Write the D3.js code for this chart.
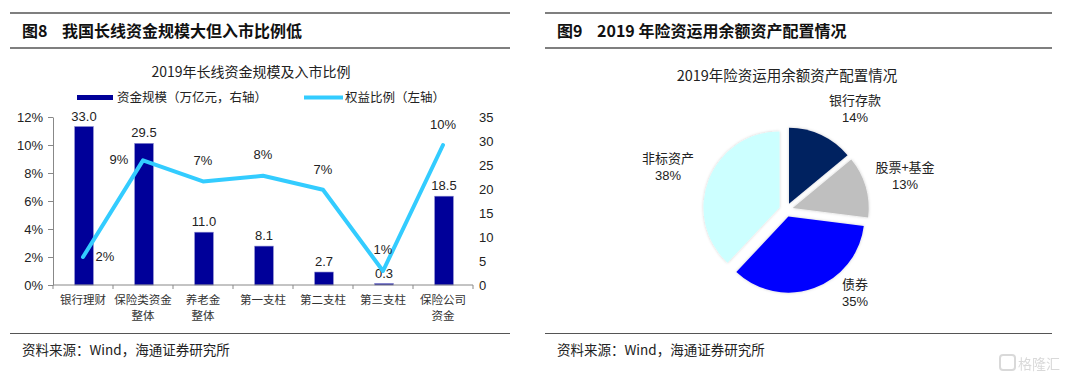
<!DOCTYPE html>
<html><head><meta charset="utf-8">
<script src="https://cdn.jsdelivr.net/npm/d3@7"></script>
<style>
body{margin:0;background:#fff;}
svg{display:block;font-family:"Liberation Sans",Arial,"Noto Sans CJK SC",sans-serif;}
.cjk{font-family:"Noto Sans CJK SC",sans-serif;}
</style></head>
<body>
<svg id="c" width="1073" height="383"></svg>
<script>
// ---- data ----
const categories = [["银行理财"],["保险类资金","整体"],["养老金","整体"],["第一支柱"],["第二支柱"],["第三支柱"],["保险公司","资金"]];
const fundScale = [33.0, 29.5, 11.0, 8.1, 2.7, 0.3, 18.5];          // 万亿元, right axis
const equityRatio = [0.020, 0.089, 0.074, 0.078, 0.068, 0.010, 0.100]; // left axis
const equityLabels = ["2%","9%","7%","8%","7%","1%","10%"];
const leftTicks = [0,0.02,0.04,0.06,0.08,0.10,0.12];
const rightTicks = [0,5,10,15,20,25,30,35];
const pieNames = ["银行存款","股票+基金","债券","非标资产"];
const pieValues = [14, 13, 35, 38];
const pieColors = ["#002060","#BFBFBF","#0000FF","#CCFFFF"];

const svg = d3.select("#c");
const defs = svg.append("defs");
const f = defs.append("filter").attr("id","sh").attr("x","-20%").attr("y","-20%").attr("width","140%").attr("height","140%");
f.append("feGaussianBlur").attr("in","SourceAlpha").attr("stdDeviation",1.5).attr("result","b");
f.append("feFlood").attr("flood-color","#000").attr("flood-opacity",0.2);
f.append("feComposite").attr("in2","b").attr("operator","in").attr("result","s");
const fm = f.append("feMerge"); fm.append("feMergeNode").attr("in","s"); fm.append("feMergeNode").attr("in","SourceGraphic");

// ---- frame: rules, titles, sources ----
function panel(x1,x2,fig,title,src){
  svg.append("line").attr("x1",x1).attr("x2",x2).attr("y1",13).attr("y2",13).attr("stroke","#555").attr("stroke-width",1.5);
  svg.append("line").attr("x1",x1).attr("x2",x2).attr("y1",48).attr("y2",48).attr("stroke","#555").attr("stroke-width",1.5);
  svg.append("line").attr("x1",x1).attr("x2",x2).attr("y1",333.5).attr("y2",333.5).attr("stroke","#555").attr("stroke-width",1.2);
  svg.append("text").attr("class","cjk").attr("x",x1+12).attr("y",37).attr("font-size",16).attr("font-weight","bold").attr("fill","#111").text(fig);
  svg.append("text").attr("class","cjk").attr("x",x1+52).attr("y",37).attr("font-size",16).attr("font-weight","bold").attr("fill","#111").text(title);
  svg.append("text").attr("class","cjk").attr("x",x1+12).attr("y",355).attr("font-size",13.5).attr("fill","#222").text(src);
}
panel(10,510,"图8","我国长线资金规模大但入市比例低","资料来源：Wind，海通证券研究所");
panel(545,1052,"图9","2019 年险资运用余额资产配置情况","资料来源：Wind，海通证券研究所");

// ---- left chart ----
const x0 = 53, x1 = 473, yTop = 117, yBot = 285;
const xb = d3.scaleBand().domain(d3.range(categories.length)).range([x0,x1]).paddingInner(0.69).paddingOuter(0.345);
const xBand = d3.scaleBand().domain(d3.range(categories.length)).range([x0,x1]);
const yL = d3.scaleLinear().domain([0,0.12]).range([yBot,yTop]);
const yR = d3.scaleLinear().domain([0,35]).range([yBot,yTop]);

svg.append("text").attr("class","cjk").attr("x",251).attr("y",77).attr("text-anchor","middle").attr("font-size",14).attr("fill","#222").text("2019年长线资金规模及入市比例");

// legend
svg.append("rect").attr("x",77).attr("y",95).attr("width",36).attr("height",5).attr("fill","#000099");
svg.append("text").attr("class","cjk").attr("x",117).attr("y",102).attr("font-size",12.5).attr("fill","#222").text("资金规模（万亿元，右轴）");
svg.append("line").attr("x1",304).attr("x2",343).attr("y1",97.5).attr("y2",97.5).attr("stroke","#33CCFF").attr("stroke-width",4);
svg.append("text").attr("class","cjk").attr("x",345).attr("y",102).attr("font-size",12.5).attr("fill","#222").text("权益比例（左轴）");

// left axis
const gL = svg.append("g").attr("transform",`translate(${x0},0)`)
  .call(d3.axisLeft(yL).tickValues(leftTicks).tickFormat(d3.format(".0%")).tickSize(5).tickSizeOuter(0));
gL.select(".domain").attr("stroke","#888");
gL.selectAll(".tick line").attr("stroke","#888");
gL.selectAll("text").attr("font-size",13).attr("fill","#222").attr("x",-10).attr("font-family","Liberation Sans, Arial");

// right axis (labels only)
const gR = svg.append("g").attr("transform",`translate(${x1-6},0)`)
  .call(d3.axisRight(yR).tickValues(rightTicks).tickSize(0));
gR.select(".domain").remove();
gR.selectAll("text").attr("font-size",13).attr("fill","#222").attr("x",12).attr("font-family","Liberation Sans, Arial");

// bars
svg.append("g").selectAll("rect").data(fundScale).join("rect")
  .attr("x",(d,i)=>xb(i)+1).attr("width",xb.bandwidth())
  .attr("y",d=>yR(d)).attr("height",d=>yBot-yR(d))
  .attr("fill","#000099").attr("stroke","#8080cc").attr("stroke-width",0.6);

// x axis
svg.append("line").attr("x1",x0).attr("x2",x1).attr("y1",yBot).attr("y2",yBot).attr("stroke","#888");
svg.append("g").selectAll("line").data(d3.range(categories.length+1)).join("line")
  .attr("x1",i=>x0+i*xBand.step()).attr("x2",i=>x0+i*xBand.step())
  .attr("y1",yBot).attr("y2",yBot+4).attr("stroke","#888");
const cl = svg.append("g").selectAll("text").data(categories).join("text").attr("class","cjk")
  .attr("text-anchor","middle").attr("font-size",11.5).attr("fill","#333");
cl.each(function(d,i){
  const t = d3.select(this);
  d.forEach((s,k)=>t.append("tspan").attr("x",xBand(i)+xBand.bandwidth()/2).attr("y",304+k*16).text(s));
});

// bar labels
svg.append("g").selectAll("text").data(fundScale).join("text")
  .attr("x",(d,i)=>xb(i)+1+xb.bandwidth()/2).attr("y",d=>yR(d)-6)
  .attr("text-anchor","middle").attr("font-size",13).attr("fill","#222").text(d=>d.toFixed(1));

// line
const lineGen = d3.line().x((d,i)=>xBand(i)+xBand.bandwidth()/2).y(d=>yL(d));
svg.append("path").datum(equityRatio).attr("d",lineGen).attr("fill","none")
  .attr("stroke","#33CCFF").attr("stroke-width",4).attr("stroke-linejoin","round").attr("stroke-linecap","round");

// line labels (offsets per point)
const lblOff = [[22,4],[-24,4],[0,-16],[0,-17],[0,-16],[0,-17],[0,-16]];
svg.append("g").selectAll("text").data(equityRatio).join("text")
  .attr("x",(d,i)=>xBand(i)+xBand.bandwidth()/2+lblOff[i][0]).attr("y",(d,i)=>yL(d)+lblOff[i][1])
  .attr("text-anchor","middle").attr("font-size",13).attr("fill","#222").text((d,i)=>equityLabels[i]);

// ---- right chart: pie ----
svg.append("text").attr("class","cjk").attr("x",787).attr("y",81).attr("text-anchor","middle").attr("font-size",14.5).attr("fill","#222").text("2019年险资运用余额资产配置情况");
const cx = 786, cy = 210, R = 76, off = 7;
const pie = d3.pie().sort(null).value(d=>d)(pieValues);
const arc = d3.arc().innerRadius(0).outerRadius(R);
const pg = svg.append("g").attr("transform",`translate(${cx},${cy})`);
pg.selectAll("path").data(pie).join("path")
  .attr("d",arc).attr("fill",(d,i)=>pieColors[i]).attr("filter","url(#sh)")
  .attr("transform",d=>{const a=(d.startAngle+d.endAngle)/2; return `translate(${off*Math.sin(a)},${-off*Math.cos(a)})`;});

const pieLbl = [[69,-105],[119,-38],[69,79],[-118,-47]];
const lg = svg.append("g");
pie.forEach((d,i)=>{
  const t = lg.append("text").attr("text-anchor","middle").attr("font-size",13).attr("fill","#222");
  t.append("tspan").attr("class","cjk").attr("x",cx+pieLbl[i][0]).attr("y",cy+pieLbl[i][1]).text(pieNames[i]);
  t.append("tspan").attr("x",cx+pieLbl[i][0]).attr("y",cy+pieLbl[i][1]+17).attr("font-size",13).text(pieValues[i]+"%");
});

// watermark
const wm = svg.append("g").attr("opacity",0.55);
wm.append("rect").attr("x",1000).attr("y",355).attr("width",15).attr("height",15).attr("rx",3).attr("fill","none").attr("stroke","#bbb").attr("stroke-width",2);
wm.append("text").attr("class","cjk").attr("x",1018).attr("y",369).attr("font-size",14).attr("fill","#bbb").text("格隆汇");
</script>
</body></html>
